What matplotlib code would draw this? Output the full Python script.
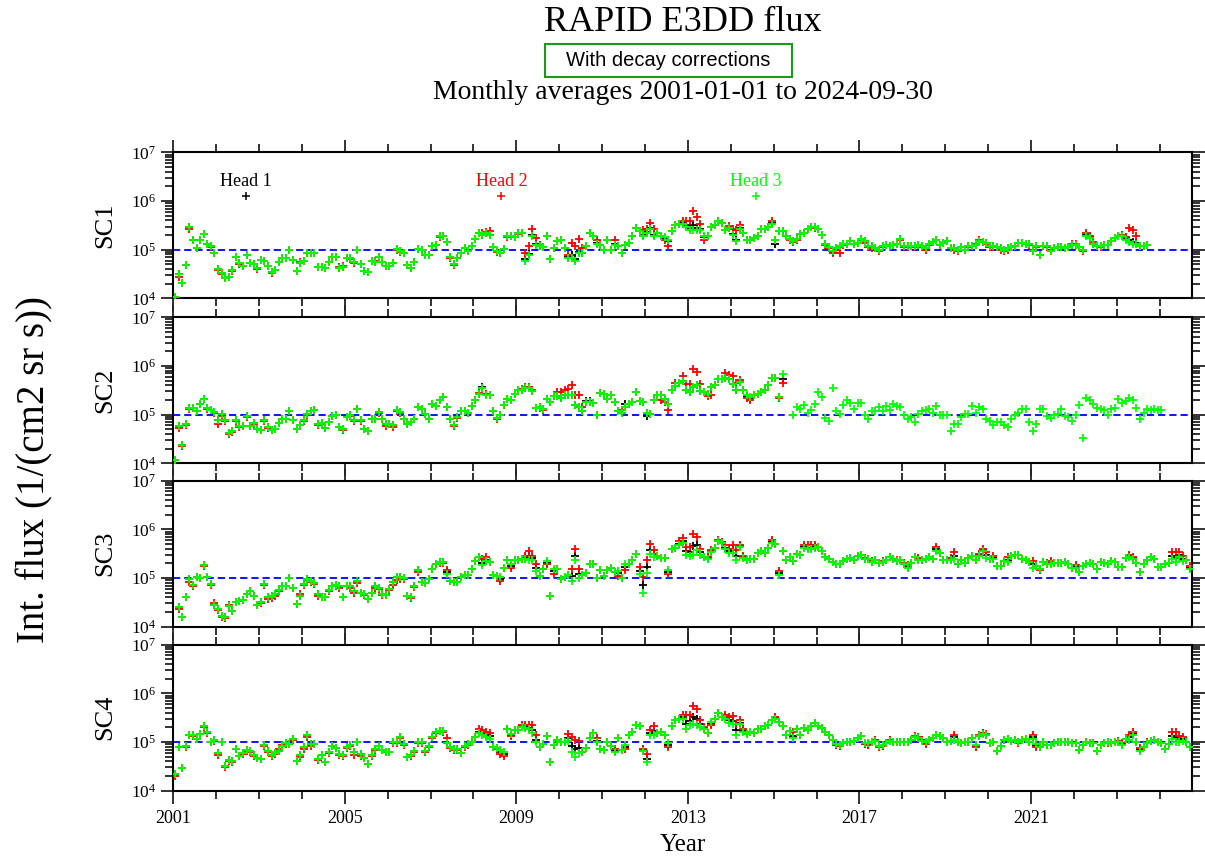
import numpy as np
import matplotlib
matplotlib.use('Agg')
import matplotlib.pyplot as plt
from matplotlib.ticker import FixedLocator, MultipleLocator, LogLocator, NullFormatter
from matplotlib.patches import Rectangle

nan = np.nan

# monthly averages, log10 of flux, one row per year (Jan..Dec), from 2001-01
sc1_head1 = [
    4.03, 4.50, 4.32, 4.68, 5.47, 5.21, 5.04, 5.19, 5.33, 5.11, 5.07, 4.93,
    4.60, 4.52, 4.41, 4.44, 4.59, 4.86, 4.72, 4.67, 4.90, 4.72, 4.71, 4.62,
    4.78, 4.77, 4.67, 4.55, 4.59, 4.74, 4.83, 4.83, 4.99, 4.79, 4.57, 4.72,
    4.77, 4.94, 4.94, 4.93, 4.64, 4.64, 4.63, 4.74, 4.86, 4.85, 4.63, 4.64,
    4.84, 4.83, 4.74, 5.00, 4.71, 4.57, 4.54, 4.76, 4.74, 4.86, 4.74, 4.66,
    4.67, 4.72, 5.01, 4.97, 4.93, 4.69, 4.62, 4.75, 5.01, 5.00, 4.90, 4.90,
    5.07, 5.10, 5.28, 5.28, 5.15, 4.86, 4.70, 4.83, 4.93, 5.03, 4.97, 5.08,
    5.23, 5.34, 5.31, 5.34, 5.30, 5.06, 4.97, 4.94, 5.02, 5.29, 5.28, 5.26,
    5.34, 5.34, 4.80, 4.92, 5.30, 5.12, 5.07, 5.06, 5.28, 4.81, 5.03, 5.17,
    5.21, 5.03, 4.85, 4.90, 4.80, 4.95, 4.93, 5.08, 5.34, 5.28, 5.14, 5.10,
    5.00, 5.21, 5.00, 5.12, 5.07, 4.94, 5.10, 5.14, 5.29, 5.45, 5.38, 5.30,
    5.36, 5.45, 5.30, 5.34, 5.28, 5.24, 5.17, 5.38, 5.50, 5.52, 5.54, 5.50,
    5.45, 5.50, 5.45, 5.43, 5.26, 5.28, 5.47, 5.50, 5.59, 5.55, 5.41, 5.45,
    5.33, 5.20, 5.45, 5.34, 5.21, 5.21, 5.24, 5.28, 5.43, 5.43, 5.47, 5.54,
    5.11, 5.38, 5.38, 5.28, 5.22, 5.17, 5.22, 5.32, 5.34, 5.43, 5.47, 5.47,
    5.43, 5.31, 5.12, 5.06, 4.96, 5.03, 5.05, 5.12, 5.12, 5.17, 5.12, 5.14,
    5.22, 5.17, 5.08, 5.07, 5.03, 5.00, 5.08, 5.10, 5.07, 5.10, 5.12, 5.22,
    5.08, 5.07, 5.08, 5.08, 5.10, 5.07, 5.03, 5.12, 5.15, 5.21, 5.10, 5.14,
    5.17, 5.03, 5.03, 5.00, 5.06, 5.00, 5.07, 5.08, 5.10, 5.17, 5.15, 5.14,
    5.07, 5.07, 5.05, 5.03, 5.00, 5.03, 5.06, 5.08, 5.14, 5.13, 5.12, 5.12,
    4.97, 5.07, 4.90, 5.08, 5.08, 4.97, 5.03, 5.06, 5.05, 5.03, 5.06, 5.10,
    5.10, 5.06, 4.99, 5.30, 5.26, 5.12, 5.08, 5.08, 5.09, 5.10, 5.17, 5.24,
    5.28, 5.29, 5.22, 5.20, 5.15, 5.14, 5.07, 5.08, 5.10,
]
sc1_head2 = [
    4.03, 4.45, 4.32, 4.68, 5.43, 5.21, 5.04, 5.19, 5.33, 5.11, 5.05, 4.93,
    4.58, 4.50, 4.42, 4.44, 4.57, 4.86, 4.70, 4.67, 4.90, 4.72, 4.70, 4.60,
    4.78, 4.77, 4.66, 4.53, 4.59, 4.74, 4.83, 4.83, 4.99, 4.79, 4.57, 4.75,
    4.77, 4.94, 4.93, 4.93, 4.64, 4.64, 4.63, 4.74, 4.86, 4.85, 4.65, 4.66,
    4.84, 4.80, 4.72, 5.00, 4.71, 4.57, 4.54, 4.76, 4.76, 4.86, 4.74, 4.66,
    4.67, 4.72, 5.00, 4.95, 4.93, 4.69, 4.62, 4.75, 5.01, 5.00, 4.90, 4.90,
    5.07, 5.10, 5.27, 5.28, 5.15, 4.83, 4.68, 4.83, 4.93, 5.03, 4.97, 5.08,
    5.23, 5.34, 5.35, 5.36, 5.38, 5.06, 4.95, 4.93, 5.02, 5.27, 5.28, 5.26,
    5.32, 5.34, 4.93, 5.08, 5.43, 5.24, 5.10, 5.06, 5.28, 4.81, 5.03, 5.17,
    5.20, 5.03, 4.90, 5.14, 5.07, 5.22, 5.03, 5.08, 5.34, 5.28, 5.21, 5.10,
    5.00, 5.21, 5.00, 5.21, 5.07, 4.94, 5.10, 5.14, 5.29, 5.45, 5.38, 5.41,
    5.43, 5.55, 5.43, 5.34, 5.28, 5.21, 5.07, 5.38, 5.50, 5.52, 5.59, 5.59,
    5.59, 5.79, 5.68, 5.52, 5.21, 5.28, 5.47, 5.50, 5.59, 5.55, 5.41, 5.48,
    5.43, 5.40, 5.50, 5.34, 5.21, 5.21, 5.24, 5.28, 5.43, 5.43, 5.47, 5.60,
    5.21, 5.38, 5.38, 5.28, 5.20, 5.15, 5.20, 5.32, 5.34, 5.43, 5.47, 5.45,
    5.43, 5.31, 5.10, 5.03, 4.93, 5.00, 4.93, 5.10, 5.12, 5.17, 5.12, 5.14,
    5.20, 5.14, 5.06, 5.03, 5.03, 4.97, 5.06, 5.10, 5.07, 5.10, 5.12, 5.20,
    5.06, 5.05, 5.08, 5.06, 5.10, 5.05, 5.00, 5.10, 5.15, 5.19, 5.10, 5.14,
    5.17, 5.03, 5.00, 4.98, 5.06, 5.00, 5.05, 5.08, 5.12, 5.19, 5.15, 5.12,
    5.05, 5.05, 5.05, 5.00, 4.98, 5.00, 5.06, 5.08, 5.14, 5.13, 5.12, 5.10,
    4.99, 5.05, 4.90, 5.08, 5.06, 4.97, 5.03, 5.06, 5.05, 5.03, 5.06, 5.12,
    5.12, 5.06, 4.97, 5.34, 5.28, 5.15, 5.08, 5.06, 5.09, 5.10, 5.17, 5.24,
    5.28, 5.30, 5.26, 5.45, 5.41, 5.28, 5.07, 5.08, 5.10,
]
sc1_head3 = [
    4.03, 4.50, 4.32, 4.68, 5.47, 5.21, 5.04, 5.19, 5.33, 5.11, 5.07, 4.93,
    4.60, 4.52, 4.41, 4.44, 4.59, 4.86, 4.72, 4.67, 4.90, 4.72, 4.71, 4.62,
    4.78, 4.77, 4.67, 4.55, 4.59, 4.74, 4.83, 4.83, 4.99, 4.79, 4.57, 4.72,
    4.77, 4.94, 4.94, 4.93, 4.64, 4.64, 4.63, 4.74, 4.86, 4.85, 4.63, 4.64,
    4.84, 4.83, 4.74, 5.00, 4.71, 4.57, 4.54, 4.76, 4.74, 4.86, 4.74, 4.66,
    4.67, 4.72, 5.01, 4.97, 4.93, 4.69, 4.62, 4.75, 5.01, 5.00, 4.90, 4.90,
    5.07, 5.10, 5.28, 5.28, 5.15, 4.86, 4.70, 4.83, 4.93, 5.03, 4.97, 5.08,
    5.23, 5.34, 5.31, 5.34, 5.30, 5.06, 4.97, 4.94, 5.02, 5.29, 5.28, 5.26,
    5.34, 5.34, 4.76, 4.90, 5.28, 5.10, 5.07, 5.06, 5.28, 4.81, 5.03, 5.17,
    5.21, 5.03, 4.83, 4.83, 4.76, 4.93, 4.93, 5.08, 5.34, 5.28, 5.12, 5.10,
    5.00, 5.21, 5.00, 5.10, 5.07, 4.94, 5.10, 5.14, 5.29, 5.45, 5.38, 5.28,
    5.34, 5.43, 5.28, 5.34, 5.28, 5.26, 5.21, 5.38, 5.50, 5.52, 5.52, 5.47,
    5.41, 5.41, 5.41, 5.41, 5.28, 5.28, 5.47, 5.50, 5.59, 5.55, 5.41, 5.45,
    5.31, 5.17, 5.43, 5.34, 5.21, 5.21, 5.24, 5.28, 5.43, 5.43, 5.47, 5.52,
    5.21, 5.38, 5.38, 5.28, 5.22, 5.17, 5.22, 5.32, 5.34, 5.43, 5.47, 5.47,
    5.43, 5.31, 5.12, 5.06, 4.98, 5.03, 5.08, 5.12, 5.12, 5.17, 5.12, 5.14,
    5.22, 5.17, 5.08, 5.07, 5.03, 5.00, 5.08, 5.10, 5.07, 5.10, 5.12, 5.22,
    5.08, 5.07, 5.08, 5.08, 5.10, 5.07, 5.03, 5.12, 5.15, 5.21, 5.10, 5.14,
    5.17, 5.03, 5.03, 5.00, 5.06, 5.00, 5.07, 5.08, 5.10, 5.17, 5.15, 5.14,
    5.07, 5.07, 5.05, 5.03, 5.00, 5.03, 5.06, 5.08, 5.14, 5.13, 5.12, 5.12,
    4.97, 5.07, 4.90, 5.08, 5.08, 4.97, 5.03, 5.06, 5.05, 5.03, 5.06, 5.10,
    5.10, 5.06, 4.99, 5.28, 5.24, 5.12, 5.08, 5.08, 5.09, 5.10, 5.17, 5.24,
    5.28, 5.29, 5.20, 5.15, 5.12, 5.12, 5.07, 5.08, 5.10,
]

sc2_head1 = [
    4.06, 4.77, 4.37, 4.81, 5.14, 5.14, 5.07, 5.21, 5.33, 5.14, 5.10, 5.06,
    4.88, 5.02, 4.88, 4.63, 4.66, 4.88, 4.77, 4.77, 4.97, 4.77, 4.83, 4.70,
    4.68, 4.88, 4.74, 4.68, 4.70, 4.83, 4.92, 4.92, 5.07, 4.88, 4.70, 4.79,
    4.88, 5.02, 5.07, 5.10, 4.80, 4.83, 4.73, 4.85, 4.97, 5.00, 4.74, 4.71,
    4.95, 4.99, 4.88, 5.12, 4.88, 4.70, 4.66, 4.92, 4.92, 5.06, 4.92, 4.80,
    4.80, 4.78, 5.10, 5.06, 4.92, 4.80, 4.85, 4.90, 5.16, 5.11, 5.02, 4.90,
    5.21, 5.18, 5.30, 5.37, 5.16, 4.92, 4.78, 4.95, 5.07, 5.07, 5.04, 5.17,
    5.31, 5.43, 5.56, 5.43, 5.40, 5.07, 4.93, 4.99, 5.19, 5.33, 5.30, 5.43,
    5.50, 5.50, 5.55, 5.55, 5.48, 5.14, 5.16, 5.12, 5.33, 5.26, 5.39, 5.39,
    5.34, 5.40, 5.40, 5.40, 5.19, 5.16, 5.07, 5.27, 5.28, 5.23, 4.99, 5.45,
    5.43, 5.33, 5.41, 5.26, 5.07, 5.03, 5.21, 5.21, 5.26, 5.47, 5.28, 5.25,
    4.97, 5.02, 5.30, 5.41, 5.41, 5.33, 5.21, 5.50, 5.59, 5.64, 5.69, 5.50,
    5.46, 5.57, 5.61, 5.48, 5.46, 5.43, 5.57, 5.61, 5.74, 5.74, 5.76, 5.73,
    5.62, 5.50, 5.66, 5.50, 5.38, 5.35, 5.41, 5.43, 5.46, 5.50, 5.61, 5.76,
    5.76, 5.37, 5.73,
]
sc2_head2 = [
    4.06, 4.73, 4.35, 4.79, 5.12, 5.14, 5.07, 5.21, 5.33, 5.12, 5.10, 5.04,
    4.81, 4.98, 4.86, 4.61, 4.64, 4.86, 4.75, 4.77, 4.95, 4.77, 4.81, 4.70,
    4.68, 4.86, 4.72, 4.68, 4.70, 4.83, 4.90, 4.92, 5.07, 4.88, 4.70, 4.79,
    4.86, 5.00, 5.07, 5.10, 4.78, 4.80, 4.73, 4.85, 4.97, 5.00, 4.74, 4.69,
    4.95, 4.97, 4.86, 5.12, 4.86, 4.70, 4.66, 4.90, 4.92, 5.04, 4.90, 4.76,
    4.80, 4.74, 5.08, 5.04, 4.90, 4.80, 4.85, 4.90, 5.16, 5.11, 5.02, 4.90,
    5.21, 5.18, 5.30, 5.37, 5.16, 4.90, 4.76, 4.93, 5.07, 5.07, 5.04, 5.17,
    5.31, 5.45, 5.55, 5.43, 5.40, 5.07, 4.91, 4.99, 5.19, 5.33, 5.30, 5.43,
    5.50, 5.52, 5.57, 5.57, 5.50, 5.14, 5.14, 5.10, 5.33, 5.26, 5.39, 5.46,
    5.46, 5.50, 5.53, 5.60, 5.41, 5.40, 5.16, 5.25, 5.26, 5.23, 4.99, 5.45,
    5.43, 5.33, 5.41, 5.26, 5.07, 5.09, 5.16, 5.21, 5.26, 5.47, 5.28, 5.25,
    5.04, 5.02, 5.30, 5.41, 5.30, 5.26, 5.09, 5.50, 5.64, 5.64, 5.80, 5.62,
    5.62, 5.94, 5.87, 5.62, 5.46, 5.38, 5.41, 5.61, 5.74, 5.74, 5.85, 5.82,
    5.79, 5.64, 5.71, 5.50, 5.34, 5.30, 5.41, 5.43, 5.46, 5.50, 5.61, 5.76,
    5.76, 5.34, 5.64,
]
sc2_head3 = [
    4.06, 4.77, 4.37, 4.81, 5.14, 5.14, 5.07, 5.21, 5.33, 5.14, 5.10, 5.06,
    4.88, 5.02, 4.88, 4.63, 4.66, 4.88, 4.77, 4.77, 4.97, 4.77, 4.83, 4.70,
    4.68, 4.88, 4.74, 4.68, 4.70, 4.83, 4.92, 4.92, 5.07, 4.88, 4.70, 4.79,
    4.88, 5.02, 5.07, 5.10, 4.80, 4.83, 4.73, 4.85, 4.97, 5.00, 4.74, 4.71,
    4.95, 4.99, 4.88, 5.12, 4.88, 4.70, 4.66, 4.92, 4.92, 5.06, 4.92, 4.80,
    4.80, 4.78, 5.10, 5.06, 4.92, 4.80, 4.85, 4.90, 5.16, 5.11, 5.02, 4.90,
    5.21, 5.18, 5.30, 5.37, 5.16, 4.92, 4.78, 4.95, 5.07, 5.07, 5.04, 5.17,
    5.31, 5.43, 5.54, 5.41, 5.40, 5.07, 4.93, 4.99, 5.19, 5.33, 5.30, 5.43,
    5.50, 5.50, 5.55, 5.55, 5.48, 5.14, 5.16, 5.12, 5.33, 5.26, 5.39, 5.39,
    5.34, 5.40, 5.40, 5.40, 5.19, 5.16, 5.07, 5.25, 5.26, 5.23, 4.99, 5.45,
    5.43, 5.33, 5.41, 5.26, 5.07, 5.03, 5.16, 5.21, 5.26, 5.47, 5.28, 5.25,
    5.04, 5.02, 5.30, 5.41, 5.41, 5.33, 5.21, 5.50, 5.59, 5.64, 5.69, 5.50,
    5.46, 5.57, 5.61, 5.48, 5.46, 5.43, 5.57, 5.61, 5.74, 5.74, 5.76, 5.73,
    5.62, 5.50, 5.66, 5.50, 5.40, 5.37, 5.41, 5.43, 5.46, 5.50, 5.61, 5.76,
    5.76, 5.37, 5.83, nan, nan, 5.00, 5.16, 5.11, 5.19, 5.04, 5.09, 5.21,
    5.46, 5.37, 4.93, 4.86, 5.55, 5.07, 5.02, 5.19, 5.30, 5.23, 5.11, 5.23,
    5.23, 5.00, 4.92, 5.07, 5.07, 5.16, 5.07, 5.18, 5.09, 5.21, 5.18, 5.16,
    5.00, 4.90, 4.95, 4.85, 5.02, 5.07, 5.09, 5.12, 5.04, 5.17, 5.00, 5.00,
    4.99, 4.66, 4.81, 4.81, 4.95, 5.02, 5.02, 5.17, 5.04, 5.16, 5.12, 4.90,
    4.86, 4.79, 4.85, 4.85, 4.79, 4.74, 4.90, 4.99, 5.04, 5.12, 5.11, 4.85,
    4.66, 4.81, 5.11, 5.12, 4.97, 4.93, 4.99, 5.02, 5.11, 4.97, 4.95, 4.86,
    4.99, 5.19, 4.52, 5.34, 5.30, 5.21, 5.14, 5.11, 5.09, 5.00, 5.11, 5.14,
    5.32, 5.23, 5.28, 5.34, 5.30, 5.14, 4.90, 5.04, 5.12, 5.09, 5.11, 5.09,
    5.09,
]

sc3_head1 = [
    nan, 4.40, 4.19, 4.61, 4.97, 4.85, 5.03, 5.00, 5.26, 5.02, 4.88, 4.45,
    4.36, 4.22, 4.19, 4.43, 4.33, 4.50, 4.52, 4.55, 4.68, 4.74, 4.63, 4.45,
    4.50, 4.88, 4.61, 4.63, 4.68, 4.76, 4.84, 4.83, 5.00, 4.79, 4.47, 4.63,
    4.88, 4.97, 4.93, 4.90, 4.68, 4.62, 4.61, 4.76, 4.83, 4.86, 4.84, 4.62,
    4.83, 4.84, 4.74, 4.93, 4.70, 4.68, 4.57, 4.70, 4.83, 4.79, 4.68, 4.66,
    4.77, 4.91, 5.03, 5.02, 5.00, 4.63, 4.61, 4.83, 5.16, 4.91, 4.90, 4.98,
    5.19, 5.28, 5.32, 5.32, 5.12, 4.94, 4.91, 4.91, 5.02, 5.07, 5.07, 5.19,
    5.34, 5.43, 5.30, 5.38, 5.32, 5.07, 5.05, 4.98, 5.20, 5.38, 5.24, 5.37,
    5.38, 5.39, 5.42, 5.45, 5.42, 5.20, 5.05, 5.19, 5.30, 4.63, 5.14, 5.19,
    4.98, 5.03, 5.07, 5.05, 5.45, 5.08, 5.07, 5.10, 5.28, 5.28, 5.00, 5.17,
    5.05, 5.16, 5.21, 5.12, 5.10, 5.00, 5.22, 5.28, 5.38, 5.50, 5.15, 4.85,
    5.22, 5.58, 5.50, 5.46, 5.41, 5.41, 5.13, 5.60, 5.62, 5.70, 5.76, 5.55,
    5.54, 5.65, 5.67, 5.54, 5.43, 5.41, 5.55, 5.62, 5.77, 5.72, 5.62, 5.55,
    5.58, 5.46, 5.65, 5.43, 5.37, 5.39, 5.39, 5.52, 5.55, 5.52, 5.62, 5.74,
    5.69, 5.10, 5.55, 5.38, 5.43, 5.34, 5.50, 5.48, 5.64, 5.62, 5.62, 5.64,
    5.64, 5.55, 5.43, 5.39, 5.32, 5.28, 5.28, 5.34, 5.39, 5.41, 5.38, 5.46,
    5.48, 5.40, 5.39, 5.33, 5.38, 5.31, 5.33, 5.38, 5.43, 5.39, 5.35, 5.37,
    5.29, 5.23, 5.31, 5.43, 5.40, 5.38, 5.39, 5.43, 5.39, 5.60, 5.52, 5.38,
    5.37, 5.39, 5.46, 5.28, 5.38, 5.30, 5.41, 5.46, 5.37, 5.48, 5.57, 5.47,
    5.39, 5.42, 5.24, 5.24, 5.34, 5.37, 5.46, 5.48, 5.48, 5.39, 5.37, 5.32,
    5.28, 5.24, 5.18, 5.32, 5.29, 5.31, 5.30, 5.30, 5.30, 5.32, 5.28, 5.21,
    5.23, 5.12, 5.24, 5.28, 5.31, 5.28, 5.19, 5.32, 5.30, 5.28, 5.34, 5.32,
    5.23, 5.23, 5.41, 5.45, 5.41, 5.31, 5.12, 5.28, 5.37, 5.43, 5.39, 5.23,
    5.23, 5.28, 5.30, 5.46, 5.42, 5.48, 5.40, 5.37, 5.21,
]
sc3_head2 = [
    nan, 4.36, 4.19, 4.61, 4.92, 4.83, 5.03, 5.00, 5.24, 5.02, 4.86, 4.48,
    4.34, 4.20, 4.17, 4.45, 4.33, 4.50, 4.52, 4.55, 4.68, 4.74, 4.63, 4.45,
    4.48, 4.86, 4.56, 4.58, 4.63, 4.73, 4.84, 4.83, 5.00, 4.79, 4.47, 4.68,
    4.86, 4.95, 4.91, 4.88, 4.63, 4.62, 4.61, 4.74, 4.83, 4.84, 4.80, 4.62,
    4.83, 4.80, 4.70, 4.90, 4.70, 4.66, 4.57, 4.70, 4.80, 4.77, 4.66, 4.66,
    4.75, 4.86, 4.95, 4.98, 4.98, 4.63, 4.58, 4.81, 5.12, 4.91, 4.90, 4.98,
    5.19, 5.28, 5.30, 5.30, 5.17, 4.94, 4.91, 4.91, 5.02, 5.07, 5.07, 5.19,
    5.34, 5.43, 5.39, 5.43, 5.32, 5.07, 5.05, 4.93, 5.20, 5.38, 5.20, 5.37,
    5.36, 5.39, 5.46, 5.55, 5.46, 5.28, 5.05, 5.19, 5.28, 4.63, 5.09, 5.19,
    4.98, 5.03, 5.07, 5.19, 5.59, 5.19, 5.07, 5.10, 5.28, 5.28, 5.00, 5.17,
    5.05, 5.16, 5.21, 5.12, 5.05, 5.00, 5.17, 5.28, 5.38, 5.50, 5.23, 5.03,
    5.36, 5.69, 5.57, 5.46, 5.41, 5.41, 5.09, 5.60, 5.62, 5.76, 5.83, 5.64,
    5.64, 5.91, 5.84, 5.60, 5.43, 5.43, 5.57, 5.62, 5.79, 5.74, 5.67, 5.59,
    5.67, 5.57, 5.67, 5.46, 5.37, 5.39, 5.39, 5.52, 5.55, 5.52, 5.62, 5.78,
    5.69, 5.14, 5.55, 5.38, 5.43, 5.34, 5.50, 5.48, 5.67, 5.67, 5.67, 5.67,
    5.64, 5.55, 5.43, 5.39, 5.32, 5.28, 5.28, 5.34, 5.39, 5.41, 5.38, 5.46,
    5.48, 5.41, 5.39, 5.34, 5.38, 5.31, 5.34, 5.38, 5.43, 5.39, 5.37, 5.37,
    5.30, 5.26, 5.31, 5.43, 5.41, 5.38, 5.39, 5.43, 5.39, 5.64, 5.52, 5.38,
    5.37, 5.41, 5.53, 5.28, 5.38, 5.30, 5.41, 5.46, 5.37, 5.50, 5.59, 5.53,
    5.39, 5.46, 5.24, 5.24, 5.34, 5.43, 5.46, 5.48, 5.48, 5.39, 5.37, 5.32,
    5.34, 5.24, 5.16, 5.32, 5.30, 5.34, 5.30, 5.30, 5.30, 5.32, 5.28, 5.21,
    5.26, 5.12, 5.24, 5.28, 5.31, 5.28, 5.19, 5.32, 5.30, 5.28, 5.34, 5.32,
    5.23, 5.23, 5.41, 5.48, 5.43, 5.31, 5.12, 5.28, 5.37, 5.43, 5.39, 5.23,
    5.23, 5.28, 5.30, 5.53, 5.53, 5.53, 5.46, 5.37, 5.24,
]
sc3_head3 = [
    nan, 4.40, 4.19, 4.61, 4.97, 4.85, 5.03, 5.00, 5.26, 5.02, 4.88, 4.45,
    4.36, 4.22, 4.19, 4.43, 4.33, 4.50, 4.52, 4.55, 4.68, 4.74, 4.63, 4.45,
    4.50, 4.88, 4.61, 4.63, 4.68, 4.76, 4.84, 4.83, 5.00, 4.79, 4.47, 4.63,
    4.88, 4.97, 4.93, 4.90, 4.68, 4.62, 4.61, 4.76, 4.83, 4.86, 4.84, 4.62,
    4.83, 4.84, 4.74, 4.93, 4.70, 4.68, 4.57, 4.70, 4.83, 4.79, 4.68, 4.66,
    4.77, 4.91, 5.03, 5.02, 5.00, 4.63, 4.61, 4.83, 5.16, 4.91, 4.90, 4.98,
    5.19, 5.28, 5.32, 5.32, 5.09, 4.94, 4.91, 4.91, 5.02, 5.07, 5.07, 5.19,
    5.34, 5.43, 5.26, 5.34, 5.32, 5.07, 5.05, 5.03, 5.20, 5.38, 5.28, 5.37,
    5.38, 5.39, 5.39, 5.38, 5.38, 5.14, 5.05, 5.19, 5.34, 4.63, 5.19, 5.19,
    4.98, 5.03, 5.07, 4.93, 5.37, 5.00, 5.07, 5.10, 5.28, 5.28, 5.00, 5.17,
    5.05, 5.16, 5.21, 5.12, 5.14, 5.00, 5.28, 5.28, 5.38, 5.50, 5.09, 4.70,
    5.10, 5.50, 5.43, 5.46, 5.41, 5.41, 5.17, 5.60, 5.62, 5.67, 5.71, 5.48,
    5.46, 5.48, 5.57, 5.48, 5.43, 5.39, 5.53, 5.62, 5.76, 5.71, 5.59, 5.52,
    5.52, 5.37, 5.64, 5.41, 5.37, 5.39, 5.39, 5.52, 5.55, 5.52, 5.62, 5.72,
    5.69, 5.07, 5.55, 5.38, 5.43, 5.34, 5.50, 5.48, 5.62, 5.59, 5.60, 5.62,
    5.64, 5.55, 5.43, 5.39, 5.32, 5.28, 5.28, 5.34, 5.39, 5.41, 5.38, 5.46,
    5.48, 5.39, 5.39, 5.32, 5.38, 5.31, 5.32, 5.38, 5.43, 5.39, 5.34, 5.37,
    5.28, 5.21, 5.31, 5.43, 5.38, 5.38, 5.39, 5.43, 5.39, 5.55, 5.52, 5.38,
    5.37, 5.37, 5.39, 5.28, 5.38, 5.30, 5.41, 5.46, 5.37, 5.46, 5.55, 5.41,
    5.39, 5.39, 5.24, 5.24, 5.34, 5.32, 5.46, 5.48, 5.48, 5.39, 5.37, 5.32,
    5.21, 5.24, 5.19, 5.32, 5.28, 5.28, 5.30, 5.30, 5.30, 5.32, 5.28, 5.21,
    5.21, 5.12, 5.24, 5.28, 5.31, 5.28, 5.19, 5.32, 5.30, 5.28, 5.34, 5.32,
    5.23, 5.23, 5.41, 5.43, 5.39, 5.31, 5.12, 5.28, 5.37, 5.43, 5.39, 5.23,
    5.23, 5.28, 5.30, 5.39, 5.32, 5.43, 5.34, 5.37, 5.19,
]

sc4_head1 = [
    4.35, 4.90, 4.47, 4.92, 5.15, 5.15, 5.07, 5.17, 5.32, 5.21, 5.00, 5.05,
    4.78, 5.01, 4.50, 4.64, 4.60, 4.86, 4.71, 4.78, 4.83, 4.81, 4.73, 4.67,
    4.66, 4.93, 4.81, 4.74, 4.78, 4.81, 4.92, 4.97, 4.95, 5.07, 4.62, 4.74,
    4.90, 5.14, 4.95, 4.95, 4.66, 4.74, 4.59, 4.79, 4.91, 4.88, 4.76, 4.73,
    4.90, 4.93, 4.79, 5.01, 4.76, 4.67, 4.55, 4.74, 4.86, 4.91, 4.83, 4.79,
    4.79, 5.00, 4.99, 5.10, 4.95, 4.69, 4.73, 4.81, 5.01, 4.99, 4.81, 4.92,
    5.10, 5.21, 5.22, 5.22, 4.97, 4.90, 4.86, 4.85, 4.78, 4.92, 4.95, 5.01,
    5.10, 5.21, 5.18, 5.14, 5.12, 4.90, 4.88, 4.80, 4.76, 5.26, 5.15, 5.24,
    5.24, 5.32, 5.31, 5.29, 5.24, 5.05, 4.90, 4.95, 5.12, 4.58, 4.93, 5.05,
    4.99, 5.01, 5.08, 4.92, 4.85, 4.88, 4.79, 4.88, 5.08, 5.19, 5.03, 4.85,
    4.83, 4.99, 4.92, 4.82, 5.08, 4.83, 4.90, 5.15, 5.21, 5.34, 5.33, 4.83,
    4.66, 5.19, 5.22, 5.19, 5.21, 5.15, 4.94, 5.33, 5.45, 5.48, 5.51, 5.38,
    5.43, 5.52, 5.48, 5.37, 5.28, 5.19, 5.38, 5.48, 5.60, 5.51, 5.51, 5.45,
    5.43, 5.24, 5.40, 5.23, 5.17, 5.21, 5.19, 5.26, 5.27, 5.33, 5.34, 5.45,
    5.49, 5.42, 5.33, 5.14, 5.22, 5.13, 5.26, 5.15, 5.29, 5.24, 5.33, 5.40,
    5.33, 5.29, 5.21, 5.15, 5.05, 4.94, 4.92, 4.97, 5.00, 5.01, 5.03, 5.08,
    5.12, 4.96, 4.95, 5.01, 5.04, 4.91, 4.92, 4.97, 5.04, 5.00, 5.00, 5.00,
    4.99, 5.01, 5.05, 5.11, 5.09, 5.04, 4.98, 5.05, 5.08, 5.14, 5.12, 5.08,
    5.01, 5.03, 5.10, 4.99, 4.97, 4.99, 4.99, 5.08, 4.92, 5.13, 5.18, 5.15,
    4.97, 5.01, 4.81, 4.92, 5.05, 5.07, 5.03, 5.05, 4.99, 5.05, 5.07, 5.00,
    5.11, 4.93, 4.90, 4.99, 4.93, 4.93, 4.97, 4.99, 5.00, 5.01, 4.99, 4.97,
    4.97, 4.83, 4.93, 4.99, 4.97, 4.97, 4.81, 4.93, 4.97, 4.99, 4.97, 4.99,
    5.01, 4.95, 5.07, 5.10, 5.17, 4.99, 4.85, 4.90, 4.99, 5.03, 5.05, 5.01,
    4.97, 4.85, 4.95, 5.13, 5.10, 5.06, 5.06, 5.00, 4.90,
]
sc4_head2 = [
    4.31, 4.90, 4.47, 4.90, 5.15, 5.13, 5.07, 5.17, 5.30, 5.19, 5.00, 5.03,
    4.74, 5.01, 4.48, 4.62, 4.58, 4.86, 4.71, 4.76, 4.81, 4.79, 4.71, 4.67,
    4.66, 4.91, 4.79, 4.72, 4.76, 4.86, 4.94, 4.95, 4.95, 5.05, 4.62, 4.70,
    4.86, 5.10, 4.92, 4.95, 4.64, 4.74, 4.59, 4.77, 4.91, 4.88, 4.74, 4.71,
    4.88, 4.91, 4.74, 4.99, 4.72, 4.67, 4.55, 4.72, 4.84, 4.91, 4.83, 4.79,
    4.79, 4.97, 4.97, 5.08, 4.93, 4.69, 4.71, 4.79, 4.97, 4.97, 4.79, 4.90,
    5.08, 5.19, 5.22, 5.20, 5.09, 4.88, 4.84, 4.83, 4.78, 4.90, 4.93, 5.01,
    5.10, 5.26, 5.24, 5.21, 5.19, 4.90, 4.86, 4.76, 4.72, 5.26, 5.12, 5.24,
    5.24, 5.34, 5.34, 5.34, 5.34, 5.15, 4.90, 4.95, 5.12, 4.58, 4.93, 5.05,
    4.99, 5.01, 5.17, 5.10, 5.05, 5.03, 4.79, 4.88, 5.08, 5.19, 5.08, 4.85,
    4.83, 4.99, 4.92, 4.86, 5.08, 4.83, 4.86, 5.15, 5.21, 5.34, 5.33, 4.86,
    4.75, 5.24, 5.33, 5.19, 5.21, 5.15, 4.90, 5.33, 5.45, 5.48, 5.55, 5.55,
    5.56, 5.75, 5.67, 5.45, 5.31, 5.19, 5.34, 5.48, 5.60, 5.51, 5.55, 5.51,
    5.53, 5.36, 5.46, 5.27, 5.17, 5.21, 5.19, 5.26, 5.27, 5.33, 5.34, 5.45,
    5.51, 5.42, 5.33, 5.14, 5.22, 5.21, 5.26, 5.15, 5.29, 5.24, 5.33, 5.40,
    5.33, 5.29, 5.21, 5.15, 5.05, 4.93, 4.91, 4.97, 5.00, 5.01, 5.03, 5.08,
    5.12, 4.95, 4.93, 5.01, 5.05, 4.90, 4.91, 4.97, 5.05, 5.00, 5.00, 5.00,
    4.99, 5.01, 5.05, 5.12, 5.10, 5.05, 4.95, 5.05, 5.08, 5.14, 5.12, 5.08,
    5.01, 5.03, 5.15, 4.99, 4.97, 4.99, 4.99, 5.08, 4.90, 5.15, 5.19, 5.17,
    4.97, 5.01, 4.81, 4.92, 5.05, 5.07, 5.03, 5.05, 4.97, 5.05, 5.07, 5.00,
    5.15, 4.90, 4.90, 4.99, 4.93, 4.93, 4.97, 4.99, 5.00, 5.01, 4.99, 4.97,
    4.97, 4.83, 4.93, 4.99, 4.97, 4.97, 4.81, 4.93, 4.97, 4.97, 4.97, 4.99,
    5.03, 4.97, 5.07, 5.15, 5.20, 4.99, 4.88, 4.90, 5.00, 5.03, 5.05, 5.01,
    4.97, 4.85, 4.95, 5.20, 5.20, 5.12, 5.10, 5.00, 4.90,
]
sc4_head3 = [
    4.35, 4.90, 4.47, 4.92, 5.15, 5.15, 5.07, 5.17, 5.32, 5.21, 5.00, 5.05,
    4.78, 5.01, 4.50, 4.64, 4.60, 4.86, 4.71, 4.78, 4.83, 4.81, 4.73, 4.67,
    4.66, 4.93, 4.81, 4.74, 4.78, 4.81, 4.92, 4.97, 4.95, 5.07, 4.62, 4.74,
    4.90, 5.14, 4.95, 4.95, 4.66, 4.74, 4.59, 4.79, 4.91, 4.88, 4.76, 4.73,
    4.90, 4.93, 4.79, 5.01, 4.76, 4.67, 4.55, 4.74, 4.86, 4.91, 4.83, 4.79,
    4.79, 5.00, 4.99, 5.10, 4.95, 4.69, 4.73, 4.81, 5.01, 4.99, 4.81, 4.92,
    5.10, 5.21, 5.22, 5.22, 4.97, 4.90, 4.86, 4.85, 4.78, 4.92, 4.95, 5.01,
    5.10, 5.19, 5.14, 5.10, 5.07, 4.90, 4.88, 4.83, 4.79, 5.26, 5.17, 5.24,
    5.24, 5.31, 5.29, 5.26, 5.19, 5.01, 4.90, 4.95, 5.12, 4.58, 4.93, 5.05,
    4.99, 5.01, 5.03, 4.79, 4.69, 4.78, 4.79, 4.88, 5.08, 5.19, 4.99, 4.85,
    4.83, 4.99, 4.92, 4.79, 5.08, 4.83, 4.93, 5.15, 5.21, 5.34, 5.33, 4.81,
    4.58, 5.15, 5.15, 5.19, 5.21, 5.15, 4.97, 5.33, 5.45, 5.48, 5.48, 5.27,
    5.34, 5.36, 5.34, 5.31, 5.26, 5.19, 5.42, 5.48, 5.60, 5.51, 5.48, 5.40,
    5.36, 5.15, 5.36, 5.21, 5.17, 5.21, 5.19, 5.26, 5.27, 5.33, 5.34, 5.45,
    5.48, 5.42, 5.33, 5.14, 5.22, 5.08, 5.26, 5.15, 5.29, 5.24, 5.33, 5.40,
    5.33, 5.29, 5.21, 5.15, 5.05, 4.95, 4.93, 4.97, 5.00, 5.01, 5.03, 5.08,
    5.12, 4.97, 4.97, 5.01, 5.03, 4.92, 4.93, 4.97, 5.03, 5.00, 5.00, 5.00,
    4.99, 5.01, 5.05, 5.10, 5.08, 5.03, 5.00, 5.05, 5.08, 5.14, 5.12, 5.08,
    5.01, 5.03, 5.05, 4.99, 4.97, 4.99, 4.99, 5.08, 4.93, 5.12, 5.17, 5.14,
    4.97, 5.01, 4.81, 4.92, 5.05, 5.07, 5.03, 5.05, 5.00, 5.05, 5.07, 5.00,
    5.07, 4.95, 4.90, 4.99, 4.93, 4.93, 4.97, 4.99, 5.00, 5.01, 4.99, 4.97,
    4.97, 4.83, 4.93, 4.99, 4.97, 4.97, 4.81, 4.93, 4.97, 5.00, 4.97, 4.99,
    4.99, 4.93, 5.07, 5.05, 5.14, 4.99, 4.81, 4.90, 4.97, 5.03, 5.05, 5.01,
    4.97, 4.85, 4.95, 5.07, 5.01, 5.01, 5.03, 5.00, 4.90,
]

panels = ['SC1', 'SC2', 'SC3', 'SC4']
heads = ['Head 1', 'Head 2', 'Head 3']
head_colors = ['black', '#ff0000', '#00ff00']
data = [
    [sc1_head1, sc1_head2, sc1_head3],
    [sc2_head1, sc2_head2, sc2_head3],
    [sc3_head1, sc3_head2, sc3_head3],
    [sc4_head1, sc4_head2, sc4_head3],
]
year_ticks = [2001, 2005, 2009, 2013, 2017, 2021]

n_months = 285  # 2001-01 .. 2024-09
t = 2001 + (np.arange(n_months) + 0.5) / 12.0


def to_flux(vals):
    v = np.full(n_months, np.nan)
    v[:len(vals)] = vals
    return 10 ** v


plt.rcParams['font.family'] = ['Liberation Serif', 'DejaVu Serif']
plt.rcParams['mathtext.fontset'] = 'stix'

fig = plt.figure(figsize=(12.05, 8.6), dpi=100)

left, width, height = 0.1438, 0.8452, 0.1698
bottoms = [0.653, 0.4613, 0.2713, 0.0806]

axes = []
for i, name in enumerate(panels):
    ax = fig.add_axes([left, bottoms[i], width, height])
    axes.append(ax)
    ax.axhline(1e5, color='#0000ff', lw=1.3, ls=(0, (4, 2.2)), zorder=1)
    for h in range(3):
        ax.plot(t, to_flux(data[i][h]), '+', color=head_colors[h],
                ms=6, mew=1.3, zorder=2 + h)
    ax.set_yscale('log')
    ax.set_ylim(1e4, 1e7)
    ax.set_xlim(2001, 2024.75)
    ax.xaxis.set_major_locator(FixedLocator(year_ticks))
    ax.xaxis.set_minor_locator(MultipleLocator(1))
    ax.yaxis.set_major_locator(LogLocator(base=10, numticks=10))
    ax.yaxis.set_minor_locator(LogLocator(base=10, subs=np.arange(2, 10), numticks=10))
    ax.yaxis.set_minor_formatter(NullFormatter())
    ax.tick_params(which='both', direction='out', top=True, right=True,
                   width=1.3, colors='#222222', labelcolor='black')
    ax.tick_params(which='major', length=9, labelsize=12.5)
    ax.tick_params(which='minor', length=6)
    ax.tick_params(axis='x', which='major', labelsize=13, pad=5)
    if i < 3:
        ax.tick_params(labelbottom=False)
    for s in ax.spines.values():
        s.set_linewidth(1.5)
    fig.text(0.087, bottoms[i] + height / 2, name, rotation=90,
             ha='center', va='center', fontsize=19)

# head labels in the top panel
ax0 = axes[0]
label_x = [2002.69, 2008.65, 2014.58]
for h in range(3):
    ax0.text(label_x[h], 10 ** 6.40, heads[h], color=head_colors[h],
             ha='center', va='center', fontsize=13)
    ax0.plot(label_x[h], 10 ** 6.10, '+', color=head_colors[h], ms=6, mew=1.1)

fig.text(0.567, 1 - 845 / 860, 'Year', ha='center', va='center', fontsize=18)

fig.text(0.567, 0.974, 'RAPID E3DD flux', ha='center', va='center', fontsize=26)
fig.add_artist(Rectangle((545 / 1205, 1 - 77 / 860), 247 / 1205, 33 / 860,
                         transform=fig.transFigure, fill=False,
                         edgecolor='#1a9a1a', lw=1.5))
fig.text(0.5548, 0.930, 'With decay corrections', ha='center', va='center',
         fontsize=14.5, family='Liberation Sans')
fig.text(0.567, 0.893, 'Monthly averages 2001-01-01 to 2024-09-30',
         ha='center', va='center', fontsize=20)
fig.text(0.029, 0.4535, 'Int. flux (1/(cm2 sr s))', rotation=90,
         ha='center', va='center', fontsize=28)

fig.savefig('out.png', dpi=100)
